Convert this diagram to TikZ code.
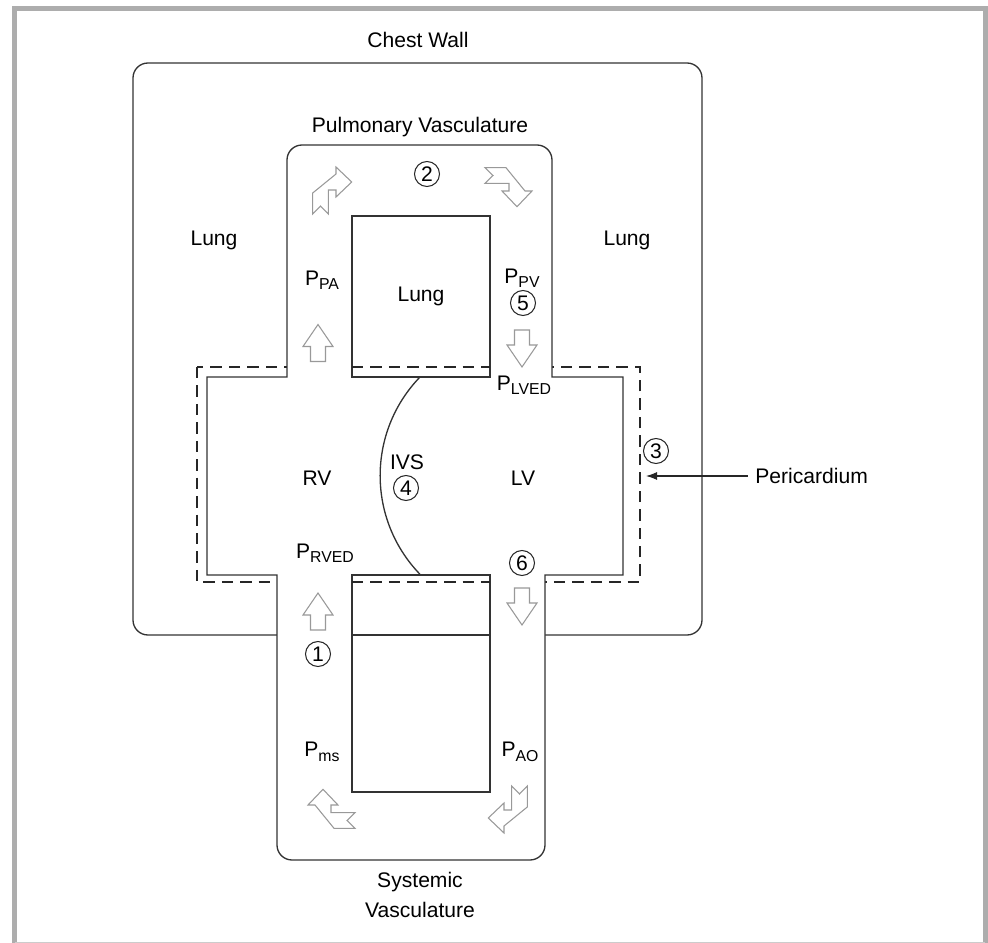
\documentclass[tikz,border=0pt]{standalone}
\usepackage{fontspec}
\setmainfont{Liberation Sans}
\usetikzlibrary{arrows.meta,positioning}

\newcommand{\lowsub}[1]{\raisebox{-0.4ex}{\fontsize{9}{9}\selectfont #1}}

\tikzset{
    pics/straightflow/.style={code={
        \draw[flow] (-7.5,-18.5) -- (7.5,-18.5) -- (7.5,-3.5) -- (15,-3.5) -- (0,18.5)
            -- (-15,-3.5) -- (-7.5,-3.5) -- cycle;
    }},
    pics/bentflow/.style={code={
        \draw[flow] (-19.3,-24) -- (-11.5,-16) -- (-3.7,-24) -- (-3.7,0) -- (4,0) -- (4,-7)
            -- (19.7,8) -- (4,23) -- (4,16) -- (-19.3,-3) -- cycle;
    }}
}

\begin{document}
\begin{tikzpicture}[
    x=0.02cm, y=0.02cm,
    font=\fontsize{12}{17}\selectfont,
    frame/.style={draw=black!32, line width=0.1cm},
    wall/.style={draw=black!80, line width=0.75pt},
    peri/.style={draw=black!85, line width=0.75pt, dash pattern=on 6.5pt off 4pt},
    flow/.style={draw=black!40, line width=0.6pt, fill=white, line join=miter},
    label/.style={inner sep=0pt, align=center},
    numcirc/.style={circle, draw=black!85, line width=0.6pt, minimum size=0.5cm, inner sep=0pt},
    pointer/.style={-{Latex[length=2.2mm,width=1.6mm]}, line width=0.6pt, draw=black!85}
]
\useasboundingbox (0,0) rectangle (988,-943);

% outer grey frame
\draw[frame] (14.5,-943) -- (14.5,-8.5) -- (985,-8.5) -- (985,-943);
\draw[draw=black!20, line width=0.4pt] (14.5,-942.5) -- (985,-942.5);

% chest wall and pericardium
\draw[wall, rounded corners=8.5pt] (133,-63) rectangle (702,-635);
\draw[peri] (197,-367) rectangle (640,-582);

% heart and vessels (cross shaped channel)
\draw[wall, fill=white] (287,-377) -- (287,-160) arc[start angle=180, end angle=90, radius=15]
    -- (537,-145) arc[start angle=90, end angle=0, radius=15]
    -- (552,-377) -- (623,-377) -- (623,-575) -- (545,-575)
    -- (545,-845) arc[start angle=0, end angle=-90, radius=15]
    -- (292,-860) arc[start angle=270, end angle=180, radius=15]
    -- (277,-575) -- (207,-575) -- (207,-377) -- cycle;

% inner boxes
\draw[wall, fill=white] (352,-216) rectangle (490,-377);
\draw[wall, fill=white] (352,-575) rectangle (490,-792);
\draw[peri] (352,-367) -- (490,-367);
\draw[peri] (352,-582) -- (490,-582);
\draw[wall] (352,-635) -- (490,-635);

% septum
\draw[wall] (420,-377) arc[start angle=136, end angle=224, radius=142];

% flow arrows
\pic at (318,-343) {straightflow};
\pic at (318,-611.5) {straightflow};
\pic[rotate=180] at (522,-348.5) {straightflow};
\pic[rotate=180] at (522,-606.5) {straightflow};
\pic at (332,-190) {bentflow};
\pic[rotate=-90] at (509,-187) {bentflow};
\pic[rotate=180] at (508,-810) {bentflow};
\pic[rotate=90] at (331,-809) {bentflow};

% labels
\node[label] (chestwall) at (418,-40) {Chest Wall};
\node[label] (pulmvasc) at (420,-127) {Pulmonary Vasculature};
\node[label] (lungleft) at (214,-240) {Lung};
\node[label] (lungright) at (627,-240) {Lung};
\node[label] (lunginner) at (421,-296) {Lung};
\node[label] (ppa) at (322,-280) {P\lowsub{PA}};
\node[label] (ppv) at (522,-278) {P\lowsub{PV}};
\node[numcirc] (num5) at (523,-303) {5};
\node[numcirc] (num2) at (427,-174) {2};
\node[label] (plved) at (524,-385) {P\lowsub{LVED}};
\node[label] (rv) at (317,-478) {RV};
\node[label] (lv) at (523,-478) {LV};
\node[label] (ivs) at (407,-462) {IVS};
\node[numcirc] (num4) at (406,-488) {4};
\node[numcirc] (num3) at (656,-451) {3};
\node[label] (prved) at (325,-553) {P\lowsub{RVED}};
\node[numcirc] (num6) at (522,-563) {6};
\node[numcirc] (num1) at (318,-654) {1};
\node[label] (pms) at (322,-752) {P\lowsub{ms}};
\node[label] (pao) at (520,-752) {P\lowsub{AO}};
\node[label] (systemic) at (420,-895) {Systemic\\Vasculature};

% pericardium pointer
\node[label, anchor=west] (pericardium) at (755,-476) {Pericardium};
\coordinate (periline) at (646,-476);
\draw[pointer] ([xshift=-4pt]pericardium.west) -- (periline);

\end{tikzpicture}
\end{document}
